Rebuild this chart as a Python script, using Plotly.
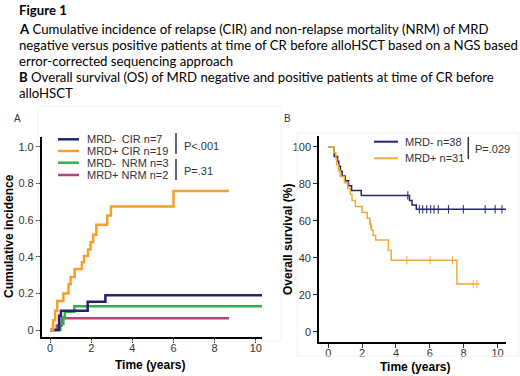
import plotly.graph_objects as go

# ---------------- data ----------------
# Panel A: cumulative incidence (step functions)
cir_neg_t = [0, 0.44, 0.53, 1.83, 2.69, 10.3]
cir_neg_v = [0, 0.078, 0.105, 0.155, 0.19, 0.19]

cir_pos_t = [0, 0.15, 0.25, 0.35, 0.65, 0.9, 1.0, 1.2, 1.55, 1.65, 1.85, 1.97, 2.1, 2.25, 2.78, 2.96, 6.0, 8.7]
cir_pos_v = [0, 0.053, 0.105, 0.158, 0.2, 0.25, 0.29, 0.333, 0.37, 0.405, 0.44, 0.48, 0.52, 0.575, 0.625, 0.675, 0.76, 0.76]

nrm_neg_t = [0, 0.5, 0.65, 0.72, 1.18, 10.3]
nrm_neg_v = [0, 0.035, 0.07, 0.1, 0.13, 0.13]

nrm_pos_t = [0, 0.33, 0.57, 8.7]
nrm_pos_v = [0, 0.025, 0.065, 0.065]

# Panel B: overall survival (%)
os_neg_t = [0, 0.35, 0.55, 0.62, 0.72, 0.82, 1.0, 1.2, 1.38, 1.95, 4.8, 4.95, 5.2, 10.55]
os_neg_v = [100, 94.7, 92.1, 89.5, 86.8, 84.2, 81.6, 78.9, 76.3, 73.7, 71.0, 68.5, 66.2, 66.2]
os_neg_cens = [4.7, 5.38, 5.58, 5.82, 6.05, 6.25, 6.5, 7.1, 7.98, 9.27, 9.86, 10.26]

os_pos_t = [0, 0.35, 0.45, 0.5, 0.6, 0.7, 0.95, 1.15, 1.3, 1.4, 1.6, 2.0, 2.3, 2.45, 2.55, 2.65, 2.8, 3.55, 3.72, 7.6, 8.9]
os_pos_v = [100, 96.8, 93.5, 90.3, 87.1, 83.9, 80.6, 77.4, 74.2, 71.0, 67.7, 64.5, 61.3, 58.1, 54.8, 52.0, 49.6, 44.1, 38.6, 25.8, 25.8]
os_pos_cens = [2.5, 4.64, 6.02, 7.34, 8.56, 8.78]

x_ticks = [0, 2, 4, 6, 8, 10]
a_y_ticks = [0, 0.2, 0.4, 0.6, 0.8, 1.0]
a_y_labels = ["0", "0.2", "0.4", "0.6", "0.8", "1.0"]
b_y_ticks = [0, 20, 40, 60, 80, 100]

title_lines = [
    "<b>Figure 1</b>",
    "<b>A</b> Cumulative incidence of relapse (CIR) and non-relapse mortality (NRM) of MRD",
    "negative versus positive patients at time of CR before alloHSCT based on a NGS based",
    "error-corrected sequencing approach",
    "<b>B</b> Overall survival (OS) of MRD negative and positive patients at time of CR before",
    "alloHSCT",
]

NAVY = "#23236e"
ORANGE = "#f5a02a"
GREEN = "#2fb24b"
PINK = "#b8407c"
ORANGE_B = "#f2aa3a"

W, H = 520, 376

def px(x):
    return x / W

def py(y):
    return 1 - y / H

fig = go.Figure()

def step(t, v, color, width, xa, ya, name):
    fig.add_trace(go.Scatter(x=t, y=v, mode="lines", line=dict(color=color, width=width, shape="hv"),
                             xaxis=xa, yaxis=ya, name=name, showlegend=False, hoverinfo="skip"))

step(nrm_pos_t, nrm_pos_v, PINK, 2.5, "x", "y", "MRD+ NRM")
step(nrm_neg_t, nrm_neg_v, GREEN, 2.5, "x", "y", "MRD- NRM")
step(cir_neg_t, cir_neg_v, NAVY, 2.5, "x", "y", "MRD- CIR")
step(cir_pos_t, cir_pos_v, ORANGE, 2.5, "x", "y", "MRD+ CIR")

step(os_neg_t, os_neg_v, NAVY, 1.5, "x2", "y2", "MRD-")
step(os_pos_t, os_pos_v, ORANGE_B, 1.5, "x2", "y2", "MRD+")

def surv_at(t_list, v_list, t):
    val = v_list[0]
    for ti, vi in zip(t_list, v_list):
        if ti <= t:
            val = vi
    return val

fig.add_trace(go.Scatter(x=os_neg_cens, y=[surv_at(os_neg_t, os_neg_v, t) for t in os_neg_cens],
                         mode="markers", marker=dict(symbol="line-ns", size=6, line=dict(color=NAVY, width=1)),
                         xaxis="x2", yaxis="y2", showlegend=False, hoverinfo="skip"))
fig.add_trace(go.Scatter(x=os_pos_cens, y=[surv_at(os_pos_t, os_pos_v, t) for t in os_pos_cens],
                         mode="markers", marker=dict(symbol="line-ns", size=6, line=dict(color=ORANGE_B, width=1)),
                         xaxis="x2", yaxis="y2", showlegend=False, hoverinfo="skip"))

tickfont = dict(family="Arial", size=11, color="#333333")
axis_common = dict(showline=True, linecolor="black", linewidth=2.2, ticks="outside", ticklen=4,
                   tickcolor="#333333", tickwidth=1, showgrid=False, zeroline=False, tickfont=tickfont)

fig.update_layout(
    width=W, height=H, margin=dict(l=0, r=0, t=0, b=0),
    paper_bgcolor="white", plot_bgcolor="white",
    xaxis=dict(domain=[px(42), px(262)], range=[-0.39, 10.3], tickvals=x_ticks, anchor="y",
               ticklabelstandoff=-4, **axis_common),
    yaxis=dict(domain=[py(337), py(136.7)], range=[-0.038, 1.056], tickvals=a_y_ticks, ticktext=a_y_labels,
               anchor="x", **axis_common),
    xaxis2=dict(domain=[px(319.3), px(506)], range=[-0.53, 10.5], tickvals=x_ticks, anchor="y2",
                ticklabelstandoff=-5, **axis_common),
    yaxis2=dict(domain=[py(342.3), py(136)], range=[-5.7, 105.8], tickvals=b_y_ticks, anchor="x2", **axis_common),
)

ann = []
shapes = []

# title block
line_y = [10, 29, 45, 61, 77, 93]
for txt, y in zip(title_lines, line_y):
    ann.append(dict(x=px(17), y=py(y), xref="paper", yref="paper", text=txt, showarrow=False,
                    xanchor="left", yanchor="middle", font=dict(family="Lato", size=13.2, color="black")))

# panel labels
ann.append(dict(x=px(17), y=py(118), xref="paper", yref="paper", text="A", showarrow=False,
                xanchor="center", yanchor="middle", font=dict(family="Arial", size=10, color="#333")))
ann.append(dict(x=px(287), y=py(118), xref="paper", yref="paper", text="B", showarrow=False,
                xanchor="center", yanchor="middle", font=dict(family="Arial", size=10, color="#333")))

# faint panel borders
shapes.append(dict(type="rect", xref="paper", yref="paper", x0=px(38), x1=px(281), y0=py(341), y1=py(106),
                   line=dict(color="#f0f0f0", width=1)))
shapes.append(dict(type="rect", xref="paper", yref="paper", x0=px(297), x1=px(519), y0=py(356), y1=py(133),
                   line=dict(color="#f0f0f0", width=1)))

# axis titles
title_font = dict(family="Arial", size=12, color="black")
ann.append(dict(x=px(9), y=py(236), xref="paper", yref="paper", text="<b>Cumulative incidence</b>", textangle=-90,
                showarrow=False, xanchor="center", yanchor="middle", font=title_font))
ann.append(dict(x=px(150), y=py(365), xref="paper", yref="paper", text="<b>Time (years)</b>",
                showarrow=False, xanchor="center", yanchor="middle", font=title_font))
ann.append(dict(x=px(288), y=py(240), xref="paper", yref="paper", text="<b>Overall survival (%)</b>", textangle=-90,
                showarrow=False, xanchor="center", yanchor="middle", font=title_font))
ann.append(dict(x=px(415), y=py(367), xref="paper", yref="paper", text="<b>Time (years)</b>",
                showarrow=False, xanchor="center", yanchor="middle", font=title_font))

# legend A
leg_font = dict(family="Arial", size=11, color="#333333")
legA = [("MRD-  CIR n=7", NAVY, 139.3), ("MRD+ CIR n=19", ORANGE, 151),
        ("MRD-  NRM n=3", GREEN, 162.7), ("MRD+ NRM n=2", PINK, 175)]
for txt, col, y in legA:
    shapes.append(dict(type="line", xref="paper", yref="paper", x0=px(58), x1=px(79), y0=py(y), y1=py(y),
                       line=dict(color=col, width=2.5)))
    ann.append(dict(x=px(85), y=py(y), xref="paper", yref="paper", text=txt, showarrow=False,
                    xanchor="left", yanchor="middle", font=leg_font))
shapes.append(dict(type="line", xref="paper", yref="paper", x0=px(176), x1=px(176), y0=py(133), y1=py(154),
                   line=dict(color="#333", width=1.5)))
shapes.append(dict(type="line", xref="paper", yref="paper", x0=px(176), x1=px(176), y0=py(159), y1=py(180),
                   line=dict(color="#333", width=1.5)))
ann.append(dict(x=px(182), y=py(145.7), xref="paper", yref="paper", text="P<.001", showarrow=False,
                xanchor="left", yanchor="middle", font=leg_font))
ann.append(dict(x=px(182), y=py(170.7), xref="paper", yref="paper", text="P=.31", showarrow=False,
                xanchor="left", yanchor="middle", font=leg_font))

# legend B
legB = [("MRD- n=38", NAVY, 141.7), ("MRD+ n=31", ORANGE_B, 158.3)]
for txt, col, y in legB:
    shapes.append(dict(type="line", xref="paper", yref="paper", x0=px(374), x1=px(398), y0=py(y), y1=py(y),
                       line=dict(color=col, width=2)))
    ann.append(dict(x=px(402.7), y=py(y), xref="paper", yref="paper", text=txt, showarrow=False,
                    xanchor="left", yanchor="middle", font=leg_font))
shapes.append(dict(type="line", xref="paper", yref="paper", x0=px(468.3), x1=px(468.3), y0=py(137), y1=py(159),
                   line=dict(color="#333", width=1.5)))
ann.append(dict(x=px(473.3), y=py(149), xref="paper", yref="paper", text="P=.029", showarrow=False,
                xanchor="left", yanchor="middle", font=leg_font))

fig.update_layout(annotations=ann, shapes=shapes)
fig.write_html("out.html", config={"displayModeBar": False},
               post_script="document.body.style.margin='0';document.body.style.padding='0';")
